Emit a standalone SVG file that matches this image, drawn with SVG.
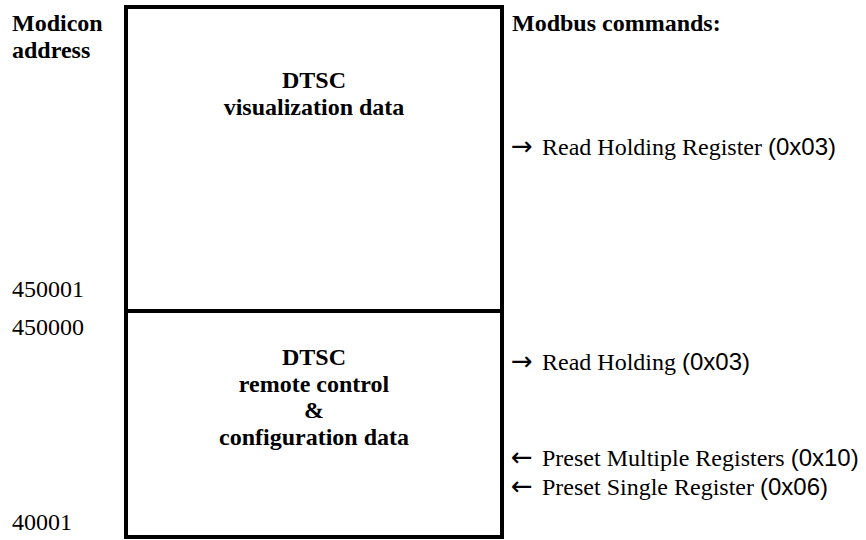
<svg xmlns="http://www.w3.org/2000/svg" width="866" height="540" viewBox="0 0 866 540">
<style>
text{font-family:"Liberation Serif","Times New Roman",serif;font-size:24px;fill:#000}
.b{font-weight:bold}
.c{text-anchor:middle}
.s{font-family:"Liberation Sans",Arial,sans-serif}
.a{font-family:"DejaVu Sans",sans-serif;font-size:26px}
.box{fill:#fff;stroke:#000;stroke-width:4}
</style>
<rect width="866" height="540" fill="#fff"/>
<g id="header">
<text class="b" x="12" y="31">Modicon</text>
<text class="b" x="12" y="58">address</text>
<text class="b" x="512" y="31">Modbus commands:</text>
</g>
<g id="visualization">
<rect class="box" x="126" y="7" width="376" height="304"/>
<text class="b c" x="314" y="88">DTSC</text>
<text class="b c" x="314" y="115">visualization data</text>
</g>
<g id="remote">
<rect class="box" x="126" y="311" width="376" height="226"/>
<text class="b c" x="314" y="365">DTSC</text>
<text class="b c" x="314" y="392">remote control</text>
<text class="b c" x="314" y="418">&amp;</text>
<text class="b c" x="314" y="445">configuration data</text>
</g>
<g id="addresses">
<text x="12" y="297">450001</text>
<text x="12" y="335">450000</text>
<text x="12" y="530">40001</text>
</g>
<g id="connectors">
<text x="511" y="155"><tspan class="a">→</tspan><tspan x="542">Read Holding Register </tspan><tspan class="s">(0x03)</tspan></text>
<text x="511" y="370"><tspan class="a">→</tspan><tspan x="542">Read Holding </tspan><tspan class="s">(0x03)</tspan></text>
<text x="511" y="466"><tspan class="a">←</tspan><tspan x="542">Preset Multiple Registers </tspan><tspan class="s">(0x10)</tspan></text>
<text x="511" y="495"><tspan class="a">←</tspan><tspan x="542">Preset Single Register </tspan><tspan class="s">(0x06)</tspan></text>
</g>
</svg>
